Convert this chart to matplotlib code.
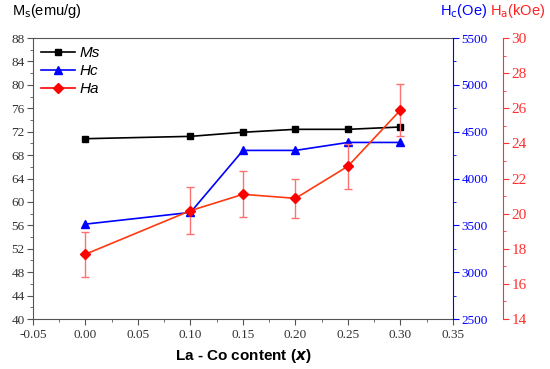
import matplotlib.pyplot as plt
from matplotlib.ticker import MultipleLocator

la_co = [0.00, 0.10, 0.15, 0.20, 0.25, 0.30]
ms_emu_g = [70.8, 71.2, 71.9, 72.4, 72.4, 72.8]
hc_oe = [3513, 3638, 4300, 4300, 4385, 4385]
ha_koe = [17.69, 20.17, 21.10, 20.87, 22.70, 25.90]
ha_err = [1.28, 1.33, 1.30, 1.10, 1.27, 1.50]

tick_font = "Liberation Serif"
tick_size = 9.5

fig = plt.figure(figsize=(5.5, 3.69), dpi=100)
ax = fig.add_axes([0.06, 0.1355, 0.7636, 0.7615])
ax2 = ax.twinx()
ax3 = ax.twinx()
ax3.spines["right"].set_position(("axes", 1.119))

# Ms on the left axis
l_ms, = ax.plot(la_co, ms_emu_g, color="black", marker="s", markersize=5,
                linewidth=1.2, label="Ms", zorder=3)
# Hc on the first right axis
l_hc, = ax2.plot(la_co, hc_oe, color="#0000FF", marker="^", markersize=6,
                 linewidth=1.2, label="Hc", zorder=3)
# Ha with error bars on the outer right axis
ax3.errorbar(la_co, ha_koe, yerr=ha_err, fmt="none", ecolor="#FF7070",
             elinewidth=1.0, capsize=3, capthick=1.0, zorder=2)
ax3.plot(la_co, ha_koe, color="#FF3A10", linewidth=1.2, zorder=3)
ax3.plot(la_co, ha_koe, linestyle="none", marker="D", markersize=5,
         color="#FF0000", zorder=4)
l_ha, = ax3.plot([], [], color="#FF0000", marker="D", markersize=5,
                 linewidth=1.2, label="Ha")

ax.set_xlim(-0.05, 0.35)
ax.set_ylim(40, 88)
ax2.set_ylim(2500, 5500)
ax3.set_ylim(14, 30)

ax.xaxis.set_major_locator(MultipleLocator(0.05))
ax.xaxis.set_minor_locator(MultipleLocator(0.025))
ax.yaxis.set_major_locator(MultipleLocator(4))
ax.yaxis.set_minor_locator(MultipleLocator(2))
ax2.yaxis.set_major_locator(MultipleLocator(500))
ax2.yaxis.set_minor_locator(MultipleLocator(250))
ax3.yaxis.set_major_locator(MultipleLocator(2))
ax3.yaxis.set_minor_locator(MultipleLocator(1))
ax.xaxis.set_major_formatter(plt.FuncFormatter(lambda v, p: f"{v:.2f}"))

gray = "#555555"
for side in ["left", "bottom", "top"]:
    ax.spines[side].set_color(gray)
ax.spines["right"].set_visible(False)
for side in ["left", "bottom", "top"]:
    ax2.spines[side].set_visible(False)
    ax3.spines[side].set_visible(False)
ax3.spines["left"].set_visible(False)
ax2.spines["right"].set_color("#0000FF")
ax3.spines["right"].set_color("#FF3030")

ax.tick_params(axis="both", which="major", length=4, color=gray,
               labelsize=tick_size, labelcolor="#333333")
ax.tick_params(axis="y", which="major", pad=2)
ax.tick_params(axis="both", which="minor", length=2, color=gray)
ax.tick_params(axis="x", which="both", top=False)
ax2.tick_params(axis="y", which="major", length=4, colors="#0000FF",
                labelsize=tick_size, pad=2)
ax2.tick_params(axis="y", which="minor", length=2, colors="#0000FF")
ax3.tick_params(axis="y", which="major", length=4, colors="#FF3030",
                labelsize=tick_size + 1.5, pad=2)
ax3.tick_params(axis="y", which="minor", length=2, colors="#FF3030")

for a in (ax, ax2, ax3):
    for lbl in a.get_xticklabels() + a.get_yticklabels():
        lbl.set_fontfamily(tick_font)

ax.set_xlabel(r"La - Co content ($\boldsymbol{x}$)", fontsize=11,
              fontweight="bold", family="Liberation Sans", labelpad=4)

fig.text(0.022, 0.945, r"M$_\mathrm{s}$(emu/g)", fontsize=10.5,
         family="Liberation Sans", ha="left", va="bottom")
fig.text(0.80, 0.945, r"H$_\mathrm{c}$(Oe)", fontsize=10.5,
         family="Liberation Sans", color="#0000FF", ha="left", va="bottom")
fig.text(0.89, 0.945, r"H$_\mathrm{a}$(kOe)", fontsize=10.5,
         family="Liberation Sans", color="#FF2020", ha="left", va="bottom")

leg = ax3.legend(handles=[l_ms, l_hc, l_ha], loc="upper left",
                 frameon=False, handlelength=2.2, handletextpad=0.3,
                 borderaxespad=0.15, labelspacing=0.25,
                 prop={"family": "Liberation Sans", "style": "italic",
                       "size": 11})

fig.savefig("out.png", dpi=100)
